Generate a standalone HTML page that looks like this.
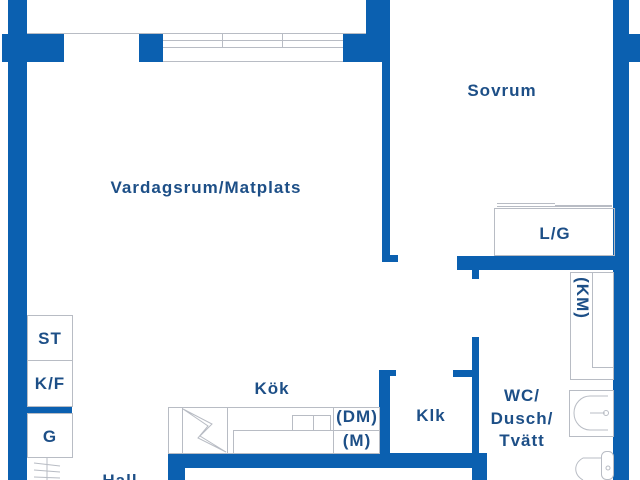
<!DOCTYPE html>
<html><head><meta charset="utf-8"><style>
html,body{margin:0;padding:0;background:#fff;width:640px;height:480px;overflow:hidden}
svg{display:block}
text{font-family:"Liberation Sans",sans-serif;font-weight:bold;fill:#1d4f87;font-size:17px;letter-spacing:1px;text-anchor:middle}
</style></head><body>
<svg width="640" height="480" viewBox="0 0 640 480" xmlns="http://www.w3.org/2000/svg">
<g fill="#0b60b0">
<rect x="8" y="0" width="19" height="480"/>
<rect x="2" y="34" width="62" height="28"/>
<rect x="139" y="34" width="24" height="28"/>
<rect x="343" y="34" width="42" height="28"/>
<rect x="366" y="0" width="19" height="34"/>
<rect x="382" y="0" width="8" height="262"/>
<rect x="382" y="255" width="16" height="7"/>
<rect x="613" y="0" width="16" height="480"/>
<rect x="613" y="34" width="27" height="28"/>
<rect x="457" y="256" width="158" height="14"/>
<rect x="472" y="270" width="7" height="9"/>
<rect x="472" y="337" width="7" height="143"/>
<rect x="453" y="370" width="19" height="7"/>
<rect x="379" y="370" width="11" height="90"/>
<rect x="390" y="370" width="6" height="6"/>
<rect x="168" y="453" width="319" height="15"/>
<rect x="168" y="468" width="17" height="12"/>
<rect x="472" y="468" width="15" height="12"/>
<rect x="27" y="406" width="45" height="7"/>
</g>
<g fill="none" stroke="#b8bcc4" stroke-width="1">
<line x1="27" y1="33.5" x2="366" y2="33.5"/>
<line x1="163" y1="40.5" x2="343" y2="40.5"/>
<line x1="163" y1="47.5" x2="343" y2="47.5"/>
<line x1="163" y1="61.5" x2="343" y2="61.5"/>
<line x1="222.5" y1="34" x2="222.5" y2="48"/>
<line x1="282.5" y1="34" x2="282.5" y2="48"/>
<rect x="27.5" y="315.5" width="45" height="91"/>
<line x1="27" y1="360.5" x2="72" y2="360.5"/>
<rect x="27.5" y="413.5" width="45" height="44"/>
<path d="M34 463 L60 466 M34 470 L60 472 M34 477 L60 478 M47 458 L47 480"/>
<rect x="168.5" y="407.5" width="211" height="46"/>
<line x1="182.5" y1="408" x2="182.5" y2="453"/>
<line x1="227.5" y1="408" x2="227.5" y2="453"/>
<line x1="333.5" y1="408" x2="333.5" y2="453"/>
<path d="M233.5 453 L233.5 430.5 L379 430.5"/>
<rect x="292.5" y="415.5" width="21" height="15"/>
<rect x="313.5" y="415.5" width="17" height="15"/>
<path d="M183 409 L212 424 L200 436 L226 452 L198 438 L208 426 Z"/>
<rect x="494.5" y="208.5" width="120" height="47"/>
<path d="M497 203.5 L555 203.5 M555 205.5 L612 205.5 M497 206.5 L612 206.5"/>
<rect x="570.5" y="272.5" width="43" height="107"/>
<path d="M592.5 272 L592.5 367.5 L613 367.5"/>
<rect x="569.5" y="390.5" width="44" height="46"/>
<path d="M608 396 L590 396 A16 17 0 0 0 590 430 L608 430"/>
<line x1="590" y1="413" x2="605" y2="413"/>
<circle cx="606" cy="413" r="2.5"/>
<path d="M602 458 L583 458 A19 14 0 0 0 583 480"/>
<rect x="601.5" y="451.5" width="12" height="28" rx="5"/>
<circle cx="608" cy="468" r="2"/>
</g>
<text x="206" y="193">Vardagsrum/Matplats</text>
<text x="502" y="96">Sovrum</text>
<text x="555" y="239">L/G</text>
<text x="272" y="394">Kök</text>
<text x="357" y="422">(DM)</text>
<text x="357" y="446">(M)</text>
<text x="431" y="421">Klk</text>
<text x="522" y="401">WC/</text>
<text x="522" y="424">Dusch/</text>
<text x="522" y="446">Tvätt</text>
<text x="50" y="344">ST</text>
<text x="50" y="389">K/F</text>
<text x="50" y="442">G</text>
<text x="120" y="486">Hall</text>
<text transform="translate(577,298) rotate(90)" x="0" y="0">(KM)</text>
</svg>
</body></html>
